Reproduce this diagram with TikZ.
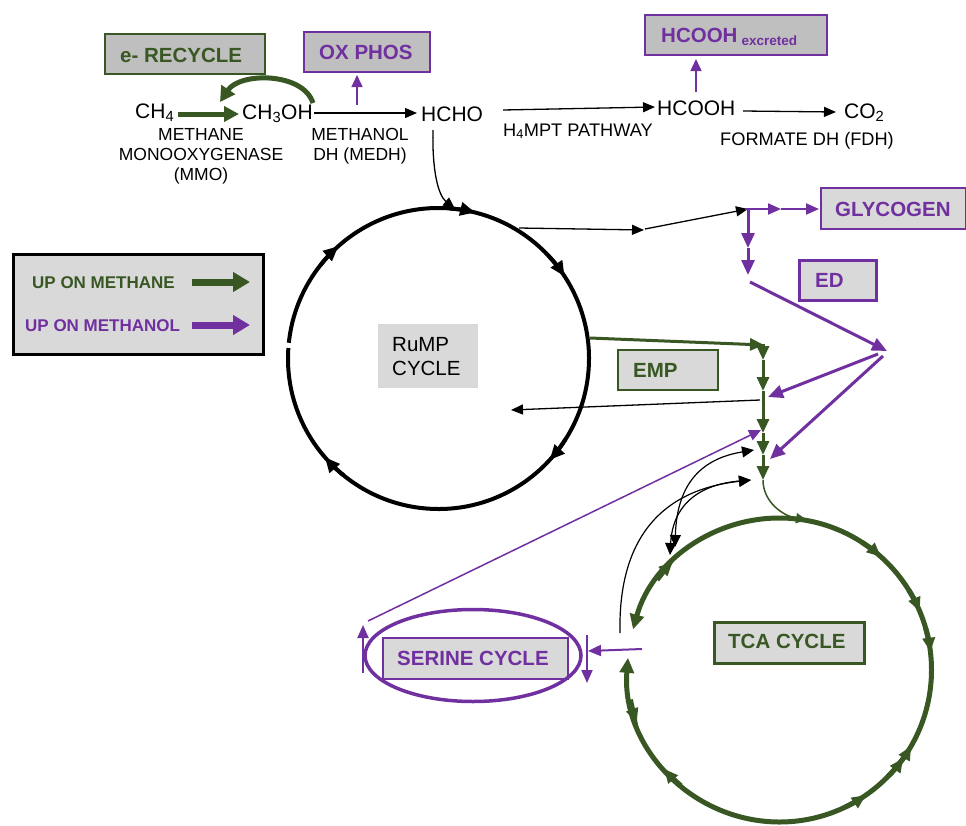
\documentclass[tikz,border=0pt]{standalone}
\usepackage{fontspec}
\setmainfont{Liberation Sans}
\usetikzlibrary{arrows.meta}
\definecolor{grn}{HTML}{385723}
\definecolor{prp}{HTML}{7030A0}
\definecolor{lgray}{HTML}{D9D9D9}
\definecolor{dgray}{HTML}{BFBFBF}
\begin{document}
\begin{tikzpicture}[x=1pt,y=1pt,
  txt/.style={inner sep=0pt, anchor=base west},
  ctxt/.style={inner sep=0pt, anchor=base},
  big/.style={font=\fontsize{21}{25}\selectfont},
  sml/.style={font=\fontsize{17.5}{21}\selectfont},
  smlb/.style={font=\fontsize{18.2}{22}\selectfont},
  lbl/.style={font=\bfseries\fontsize{20.5}{24}\selectfont},
  leg/.style={font=\bfseries\fontsize{17}{20}\selectfont},
  box/.style={inner sep=0pt, anchor=north west, line width=2pt},
  blk/.style={line width=1.3pt, -{Triangle[length=12pt,width=10pt]}},
  pmid/.style={prp, line width=2pt, -{Triangle[length=13pt,width=11pt]}},
  pthk/.style={prp, line width=3pt, -{Triangle[length=15pt,width=13pt]}},
  gmid/.style={grn, line width=3pt, -{Triangle[length=14pt,width=12pt]}},
  rtip/.style={line width=4pt, -{Triangle[length=15pt,width=13pt]}},
  ttip/.style={grn, line width=5pt, -{Triangle[length=14pt,width=12pt]}}
]
\useasboundingbox (0,0) rectangle (966,-825);

% ---------- boxes ----------
\node[box, draw=grn, fill=dgray, minimum width=160pt, minimum height=40pt] (recyclebox) at (104,-33) {};
\node[box, draw=prp, fill=dgray, minimum width=126pt, minimum height=40pt] (oxbox) at (303,-31) {};
\node[box, draw=prp, fill=dgray, minimum width=182pt, minimum height=40pt] (excbox) at (644,-14) {};
\node[box, draw=prp, fill=lgray, minimum width=145pt, minimum height=41pt] (glybox) at (820,-187) {};
\node[box, draw=prp, fill=lgray, line width=3pt, minimum width=77pt, minimum height=40pt] (edbox) at (798,-259) {};
\node[box, draw=grn, fill=lgray, minimum width=100pt, minimum height=40pt] (empbox) at (617,-349) {};
\node[box, draw=grn, fill=lgray, line width=3pt, minimum width=150pt, minimum height=41pt] (tcabox) at (713,-621) {};
\node[box, draw=prp, fill=lgray, minimum width=185pt, minimum height=41pt] (serbox) at (382,-637) {};
\node[box, fill=lgray, minimum width=100pt, minimum height=64pt] (rumpbox) at (377,-323) {};
\node[box, draw=black, fill=lgray, line width=2.5pt, minimum width=250pt, minimum height=100pt] (legbox) at (12,-253) {};

% ---------- texts ----------
\node[txt, lbl, text=grn] (recycle) at (120,-62) {e- RECYCLE};
\node[txt, lbl, text=prp] (oxphos) at (319,-59) {OX PHOS};
\node[txt, lbl, text=prp] (excreted) at (661,-42) {HCOOH\hspace{4pt}\raisebox{-3pt}{\fontsize{13.5}{15}\selectfont excreted}};
\node[txt, lbl, text=prp] (glycogen) at (835,-216) {GLYCOGEN};
\node[txt, lbl, text=prp] (ed) at (815,-287) {ED};
\node[txt, lbl, text=grn] (emp) at (633,-377) {EMP};
\node[txt, lbl, text=grn] (tca) at (728,-648) {TCA CYCLE};
\node[txt, lbl, text=prp] (serine) at (397,-665) {SERINE CYCLE};
\node[txt, leg, text=grn] (upmethane) at (32,-288) {UP ON METHANE};
\node[txt, leg, text=prp] (upmethanol) at (25,-331) {UP ON METHANOL};
\node[txt, font=\fontsize{20.5}{24}\selectfont] (rump1) at (392,-351) {RuMP};
\node[txt, font=\fontsize{20.5}{24}\selectfont] (rump2) at (392,-375) {CYCLE};

\node[txt, big] (ch4) at (135,-118) {CH\textsubscript{4}};
\node[txt, big] (ch3oh) at (242,-119) {CH\textsubscript{3}OH};
\node[txt, big] (hcho) at (421,-121) {HCHO};
\node[txt, big] (hcooh) at (657,-115) {HCOOH};
\node[txt, big] (co2) at (844,-118) {CO\textsubscript{2}};
\node[ctxt, sml] (mmo1) at (201,-140) {METHANE};
\node[ctxt, sml] (mmo2) at (201,-160) {MONOOXYGENASE};
\node[ctxt, sml] (mmo3) at (201,-180) {(MMO)};
\node[ctxt, sml] (medh1) at (360,-140) {METHANOL};
\node[ctxt, sml] (medh2) at (360,-160) {DH (MEDH)};
\node[txt, smlb] (h4mpt) at (503,-136) {H\textsubscript{4}MPT PATHWAY};
\node[ctxt, smlb] (fdh) at (807,-145) {FORMATE DH (FDH)};

% ---------- coordinates ----------
\coordinate (mmoS) at (178,-114); \coordinate (mmoE) at (239,-114);
\coordinate (recS) at (313,-103); \coordinate (recE) at (220,-102);
\coordinate (medhS) at (314,-113); \coordinate (medhE) at (417,-113);
\coordinate (oxS) at (357,-105); \coordinate (oxE) at (357,-75);
\coordinate (hchoS) at (433,-130); \coordinate (hchoE) at (455,-209);
\coordinate (h4S) at (503,-110); \coordinate (h4E) at (655,-107);
\coordinate (excS) at (696,-92); \coordinate (excE) at (696,-59);
\coordinate (fdhS) at (743,-111); \coordinate (fdhE) at (836,-112);
\coordinate (r1S) at (519,-228); \coordinate (r1E) at (644,-230);
\coordinate (r2S) at (645,-229); \coordinate (r2E) at (748,-209);
\coordinate (gJ) at (745,-209); \coordinate (gM) at (781,-209); \coordinate (gE) at (819,-209);
\coordinate (vJ) at (748,-209); \coordinate (vM) at (748,-248); \coordinate (vE) at (748,-275);
\coordinate (edS) at (750,-282); \coordinate (edE) at (887,-351);
\coordinate (ed1S) at (878,-354); \coordinate (ed1E) at (768,-397);
\coordinate (ed2S) at (883,-356); \coordinate (ed2E) at (770,-459);
\coordinate (empS) at (590,-338); \coordinate (empE) at (764,-345);
\coordinate (g0) at (763,-344); \coordinate (g1) at (763,-360); \coordinate (g2) at (763,-391);
\coordinate (g3) at (763,-433); \coordinate (g4) at (763,-455); \coordinate (g5) at (763,-480);
\coordinate (tcaIn) at (807,-520);
\coordinate (retS) at (760,-400); \coordinate (retE) at (511,-410);
\coordinate (serS) at (368,-621); \coordinate (serE) at (761,-430);
\coordinate (cA) at (754,-450); \coordinate (cB) at (751,-480);
\coordinate (cC) at (675,-547); \coordinate (cD) at (670,-555); \coordinate (cO) at (620,-633);
\coordinate (sjS) at (642,-649); \coordinate (sjE) at (588,-651);
\coordinate (srS) at (587,-635); \coordinate (srE) at (587,-683);
\coordinate (slS) at (363,-673); \coordinate (slE) at (363,-625);
\coordinate (lg1S) at (192,-282); \coordinate (lg1E) at (250,-282);
\coordinate (lg2S) at (192,-325); \coordinate (lg2E) at (250,-325);
\coordinate (rc) at (438.5,-358.5);
\coordinate (tc) at (779.5,-670);
\coordinate (sc) at (473,-655.5);

% ---------- cycles ----------
\draw[line width=4pt] ([shift={(176:150.5)}]rc) arc[start angle=176, end angle=534, radius=150.5];
\foreach \a/\b in {85.9/75.9, 43.1/33.1, -32.4/-42.4, 231/221, 141.7/131.7}
  \draw[rtip] ([shift={(\a:150.5)}]rc) arc[start angle=\a, end angle=\b, radius=150.5];

\draw[grn, line width=5pt, {Triangle[length=15pt,width=14pt]}-{Triangle[length=15pt,width=14pt]}]
  ([shift={(175.4:152)}]tc) arc[start angle=175.4, end angle=524.5, radius=152];
\foreach \a/\b in {143.6/134.6, 57.2/48.2, 31.7/22.7, 15.9/6.9, 229.6/220.6, -39/-30, -44.5/-35.5, -64.4/-55.4, 191.2/200.2}
  \draw[ttip] ([shift={(\a:152)}]tc) arc[start angle=\a, end angle=\b, radius=152];

\draw[prp, line width=3.5pt] (sc) ellipse[x radius=108, y radius=46];

% ---------- connectors ----------
\draw[grn, line width=5pt, -{Triangle[length=15pt,width=15pt]}] (mmoS) -- (mmoE);
\draw[grn, line width=5pt, -{Triangle[length=15pt,width=16pt]}] (recS) .. controls (303,-72) and (240,-72) .. (recE);
\draw[blk] (medhS) -- (medhE);
\draw[prp, line width=1.5pt, -{Triangle[length=12pt,width=11pt]}] (oxS) -- (oxE);
\draw[blk] (hchoS) .. controls (432,-170) and (438,-195) .. (hchoE);
\draw[blk] (h4S) -- (h4E);
\draw[prp, line width=1.5pt, -{Triangle[length=12pt,width=11pt]}] (excS) -- (excE);
\draw[blk] (fdhS) -- (fdhE);

\draw[blk] (r1S) -- (r1E);
\draw[blk] (r2S) -- (r2E);
\draw[pmid] (gJ) -- (gM);
\draw[pmid] (gM) -- (gE);
\draw[pthk] (vJ) -- (vM);
\draw[pthk] (vM) -- (vE);
\draw[pthk] (edS) -- (edE);
\draw[pthk] (ed1S) -- (ed1E);
\draw[pthk] (ed2S) -- (ed2E);

\draw[gmid] (empS) -- (empE);
\draw[gmid] (g0) -- (g1);
\draw[gmid] (g1) -- (g2);
\draw[gmid] (g2) -- (g3);
\draw[gmid] (g3) -- (g4);
\draw[gmid] (g4) -- (g5);
\draw[grn, line width=1.5pt, -{Triangle[length=11pt,width=10pt]}] (g5) .. controls (763,-502) and (783,-516) .. (tcaIn);

\draw[blk] (retS) -- (retE);
\draw[prp, line width=1.5pt, -{Triangle[length=12pt,width=11pt]}] (serS) -- (serE);

\draw[line width=1.2pt, {Triangle[length=12pt,width=11pt]}-{Triangle[length=12pt,width=11pt]}] (cA) .. controls (705,-458) and (677,-480) .. (cC);
\draw[line width=1.2pt, {Triangle[length=12pt,width=11pt]}-{Triangle[length=12pt,width=11pt]}] (cB) .. controls (705,-484) and (673,-500) .. (cD);
\draw[line width=1.2pt, -{Triangle[length=12pt,width=11pt]}] (cO) .. controls (618,-540) and (660,-490) .. (cB);

\draw[pmid] (sjS) -- (sjE);
\draw[pmid] (srS) -- (srE);
\draw[pmid] (slS) -- (slE);

% ---------- legend arrows ----------
\draw[grn, line width=7pt, -{Triangle[length=17pt,width=19pt]}] (lg1S) -- (lg1E);
\draw[prp, line width=7pt, -{Triangle[length=17pt,width=19pt]}] (lg2S) -- (lg2E);
\end{tikzpicture}
\end{document}
